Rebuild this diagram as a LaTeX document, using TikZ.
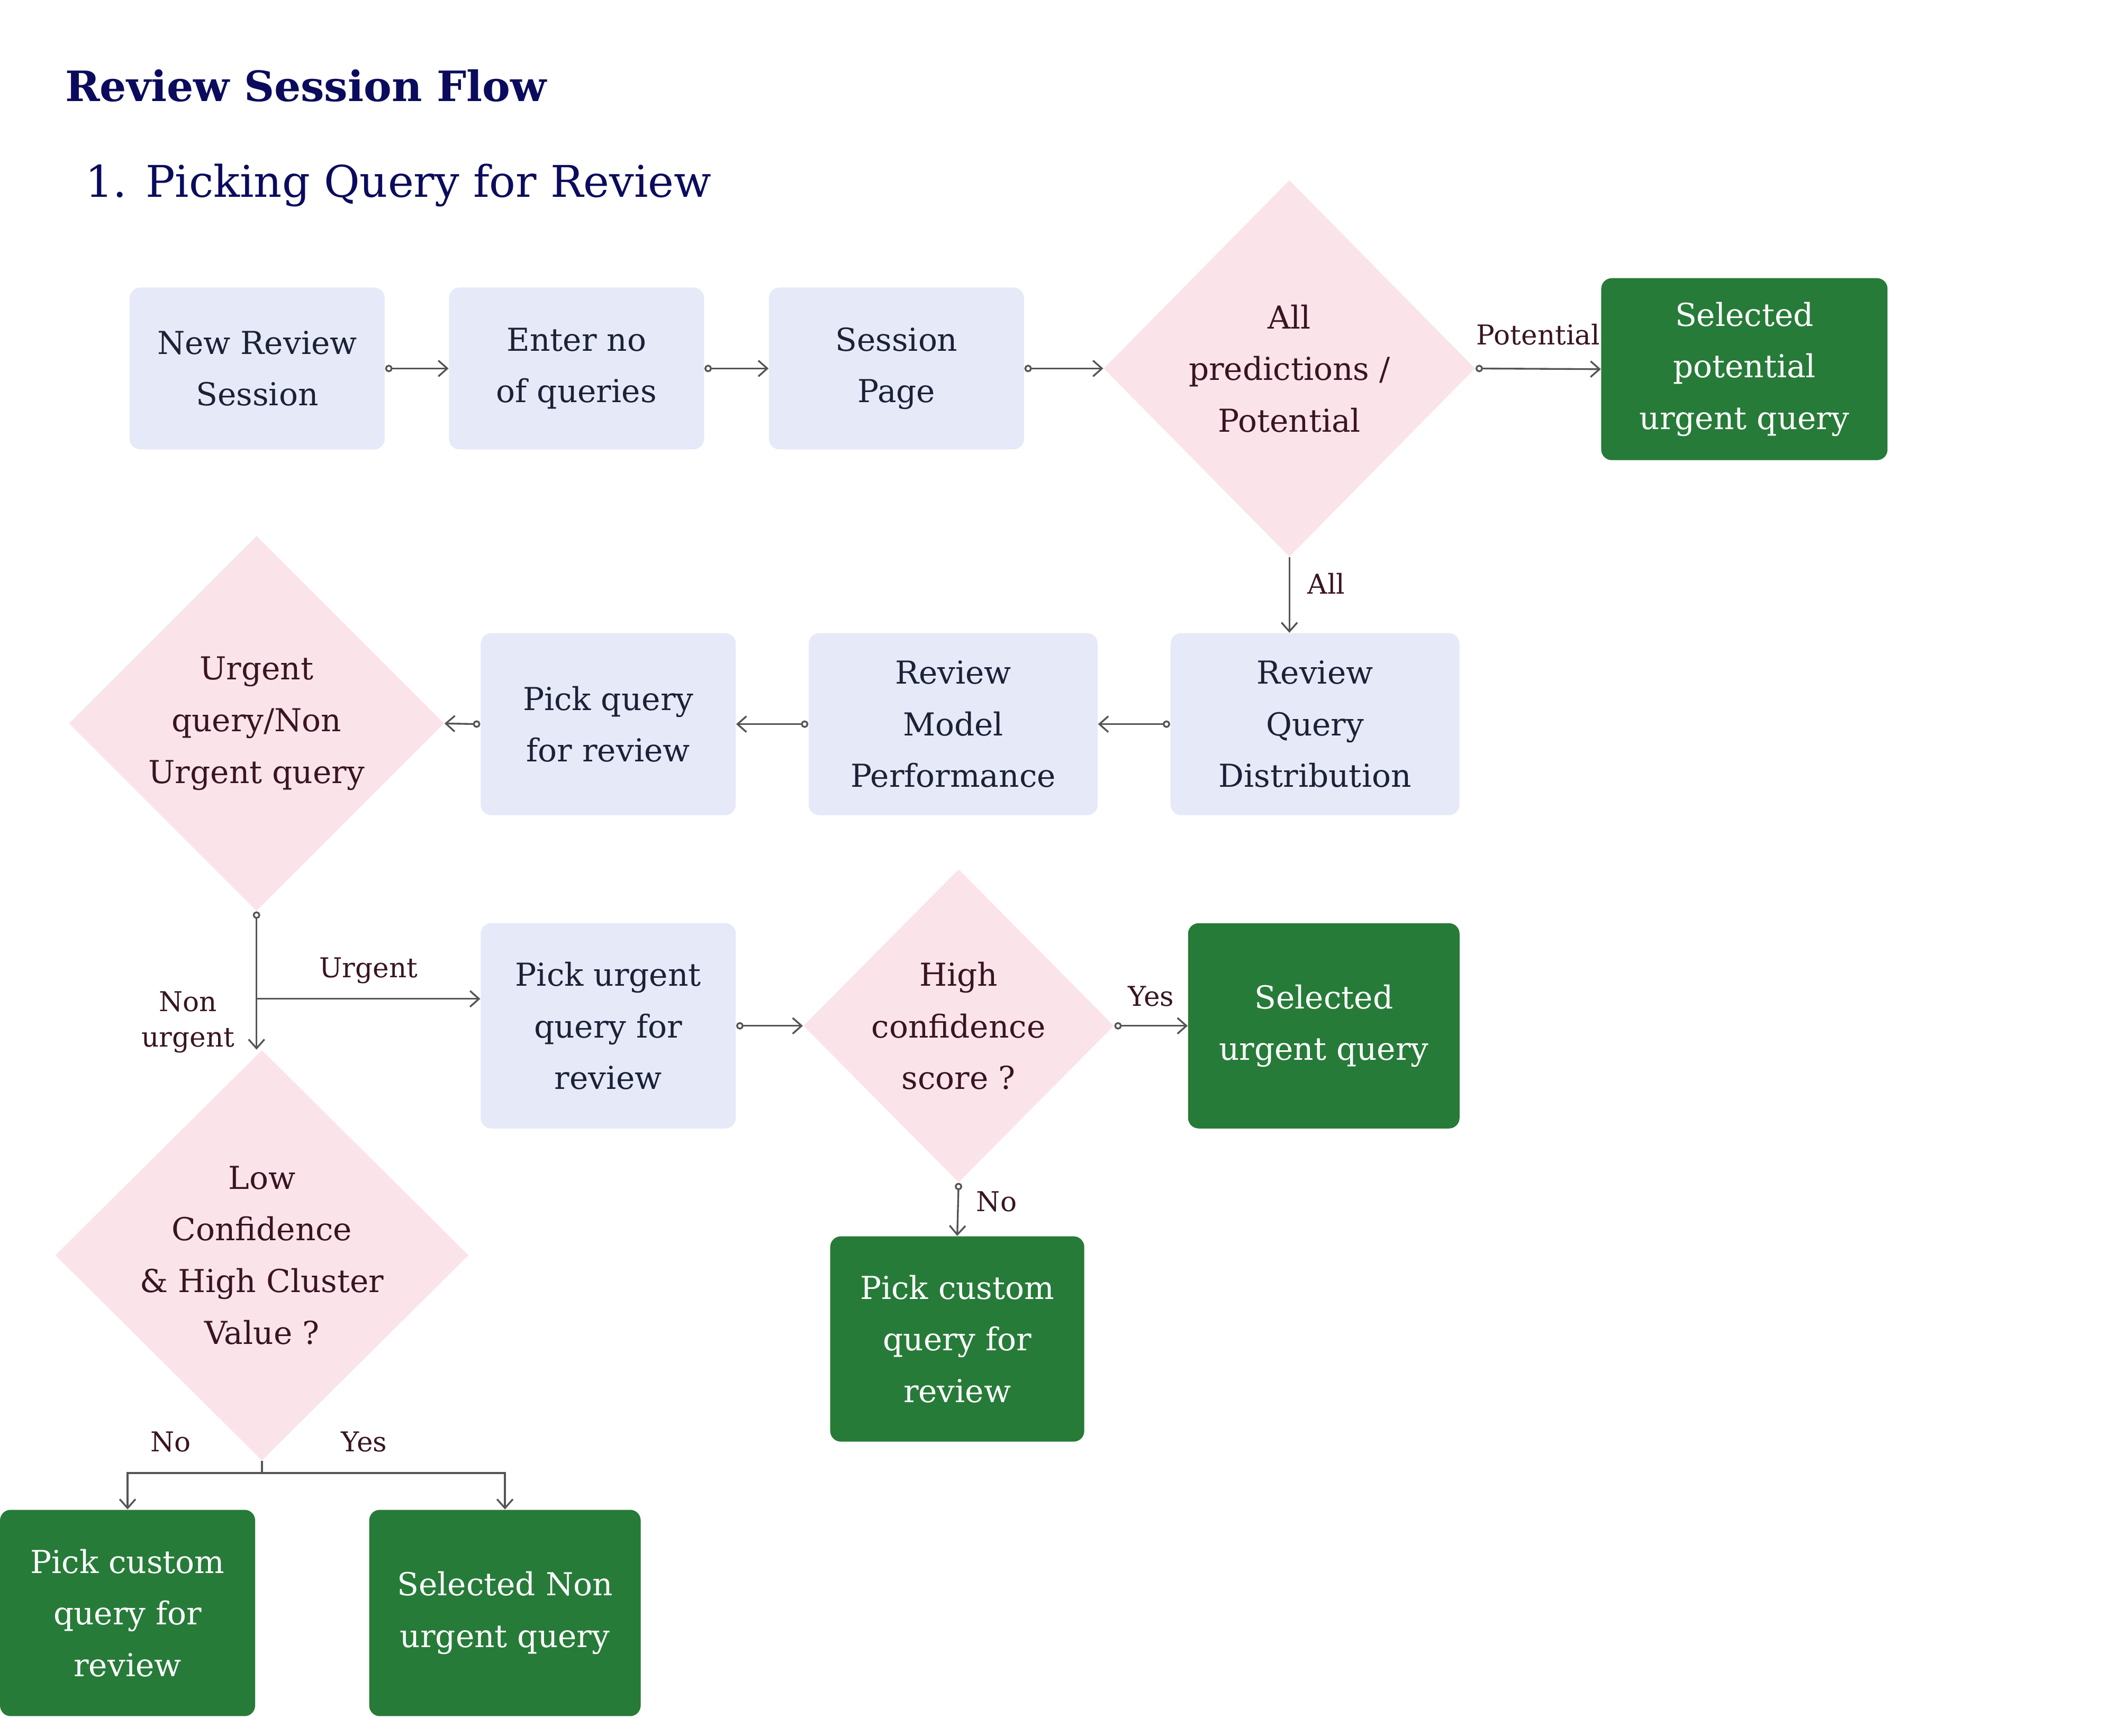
\documentclass[tikz,border=0pt]{standalone}
\usepackage{fontspec}
\setmainfont{DejaVu Serif}
\usetikzlibrary{arrows.meta, shapes.geometric}

\definecolor{navy}{HTML}{0B0B5E}
\definecolor{boxfill}{HTML}{E6E9F8}
\definecolor{boxtext}{HTML}{1B2136}
\definecolor{pinkfill}{HTML}{FAE4EA}
\definecolor{pinktext}{HTML}{3A1422}
\definecolor{greenfill}{HTML}{267B38}
\definecolor{linegray}{HTML}{555555}

\newcommand{\bodyfont}{\fontsize{17}{27.8}\selectfont}
\newcommand{\labelfont}{\fontsize{14.7}{19}\selectfont}
\newcommand{\titlefont}{\fontsize{22.5}{27}\selectfont\bfseries}
\newcommand{\subtitlefont}{\fontsize{23.5}{28}\selectfont}

\begin{document}
\begin{tikzpicture}[x=0.02551cm, y=-0.02551cm,
  box/.style={rectangle, rounded corners=0.2cm, fill=boxfill, text=boxtext,
    align=center, font=\bodyfont, inner sep=0pt},
  final/.style={box, fill=greenfill, text=white},
  decision/.style={diamond, fill=pinkfill, inner sep=0pt},
  dtext/.style={text=pinktext, align=center, font=\bodyfont},
  edgelabel/.style={text=pinktext, font=\labelfont, align=center},
  line/.style={draw=linegray, line width=0.95pt},
  tip/.style={line, -{Straight Barb[length=4.8pt,width=8.5pt]}},
  flow/.style={line, {Circle[open,length=4pt,width=4pt]}-{Straight Barb[length=4.8pt,width=8.5pt]}}]

    \fill[white] (0,0) rectangle (1568,1285.8);
    \useasboundingbox (0,0) rectangle (1568,1285.8);

    % headings
    \node[anchor=base west, font=\titlefont, text=navy, inner sep=0pt] (title) at (48,75) {Review Session Flow};
    \node[anchor=base west, font=\subtitlefont, text=navy, inner sep=0pt] (subtitle) at (63,146) {1. Picking Query for Review};

    % first row
    \node[box, minimum width=4.82cm, minimum height=3.06cm] (newSession) at (190.5,273) {New Review\\Session};
    \node[box, minimum width=4.82cm, minimum height=3.06cm] (enterNo) at (427,273) {Enter no\\of queries};
    \node[box, minimum width=4.82cm, minimum height=3.06cm] (sessionPage) at (664,273) {Session\\Page};
    \node[decision, minimum width=7.02cm, minimum height=7.12cm] (allPot) at (955,273) {};
    \node[dtext] (allPotText) at (allPot) {All\\predictions /\\Potential};
    \node[final, minimum width=5.41cm, minimum height=3.44cm] (selPot) at (1292,273.5) {Selected\\potential\\urgent query};

    % second row
    \node[box, minimum width=5.46cm, minimum height=3.44cm] (queryDist) at (974,536.5) {Review\\Query\\Distribution};
    \node[box, minimum width=5.46cm, minimum height=3.44cm] (modelPerf) at (706,536.5) {Review\\Model\\Performance};
    \node[box, minimum width=4.82cm, minimum height=3.44cm] (pickQuery) at (450.5,536.5) {Pick query\\for review};
    \node[decision, minimum width=7.09cm, minimum height=7.09cm] (urgNon) at (190,536) {};
    \node[dtext] (urgNonText) at (urgNon) {Urgent\\query/Non\\Urgent query};

    % third row
    \node[box, minimum width=4.82cm, minimum height=3.88cm] (pickUrgent) at (450.5,760) {Pick urgent\\query for\\review};
    \node[decision, minimum width=5.87cm, minimum height=5.92cm] (highConf) at (710,760) {};
    \node[dtext] (highConfText) at (highConf) {High\\confidence\\score ?};
    \node[final, minimum width=5.13cm, minimum height=3.88cm] (selUrgent) at (980.5,760) {Selected\\urgent query};
    \node[final, minimum width=4.8cm, minimum height=3.88cm] (customMid) at (709,992) {Pick custom\\query for\\review};

    % last row
    \node[decision, minimum width=7.81cm, minimum height=7.76cm] (lowConf) at (194,930) {};
    \node[dtext] (lowConfText) at (lowConf) {Low\\Confidence\\\& High Cluster\\Value ?};
    \node[final, minimum width=4.82cm, minimum height=3.9cm] (customLow) at (94.5,1195) {Pick custom\\query for\\review};
    \node[final, minimum width=5.13cm, minimum height=3.9cm] (selNon) at (374,1195) {Selected Non\\urgent query};

    % connectors
    \draw[flow] (newSession.east) -- (enterNo.west);
    \draw[flow] (enterNo.east) -- (sessionPage.west);
    \draw[flow] (sessionPage.east) -- (allPot.west);
    \draw[flow] (allPot.east) -- node[edgelabel, above=9pt] {Potential} (selPot.west);
    \draw[tip] (allPot.south) -- node[edgelabel, right=6pt, pos=0.35] {All} (allPot.south |- queryDist.north);

    \draw[flow] (queryDist.west) -- (modelPerf.east);
    \draw[flow] (modelPerf.west) -- (pickQuery.east);
    \draw[flow] (pickQuery.west) -- (urgNon.east);

    \coordinate (split) at (urgNon.south |- 0,740);
    \draw[flow] (urgNon.south) -- node[edgelabel, left=8pt, pos=0.8] {Non\\urgent} (urgNon.south |- lowConf.north);
    \draw[tip] (split) -- node[edgelabel, above=4.5pt] {Urgent} (split -| pickUrgent.west);

    \draw[flow] (pickUrgent.east) -- (highConf.west);
    \draw[flow] (highConf.east) -- node[edgelabel, above=6.5pt] {Yes} (selUrgent.west);
    \draw[flow] (highConf.south) -- node[edgelabel, right=6pt, pos=0.35] {No} (customMid.north);

    \draw[line] (lowConf.south) -- ++(0,9) coordinate (fork);
    \draw[tip] (fork) -| node[edgelabel, above=7.5pt, pos=0.34] {No} (customLow.north);
    \draw[tip] (fork) -| node[edgelabel, above=7.5pt, pos=0.21] {Yes} (selNon.north);
\end{tikzpicture}
\end{document}
